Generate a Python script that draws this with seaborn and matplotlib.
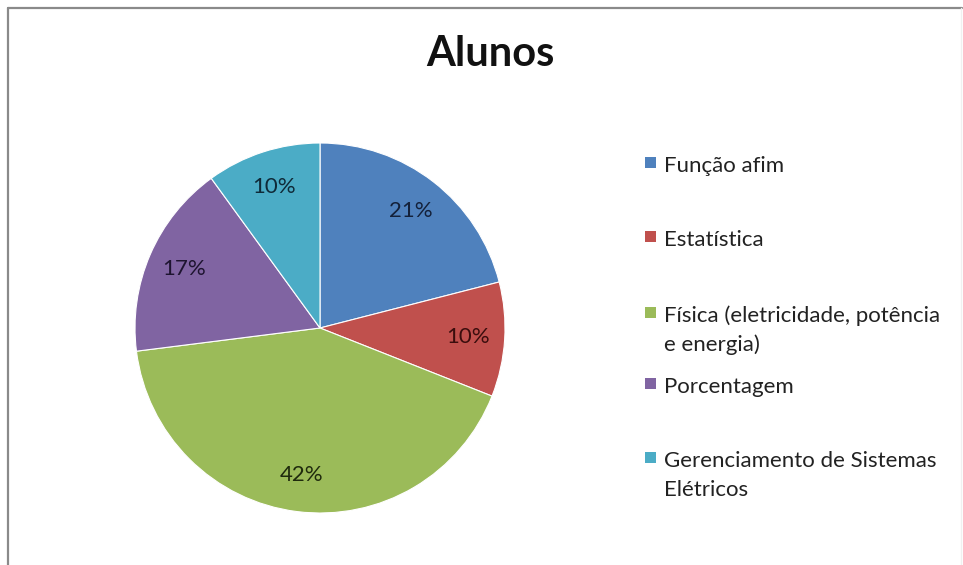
import matplotlib
matplotlib.use("Agg")
import matplotlib.pyplot as plt
from matplotlib.lines import Line2D
from matplotlib.patches import Rectangle
import seaborn as sns

# Data
categories = [
    "Função afim",
    "Estatística",
    "Física (eletricidade, potência\ne energia)",
    "Porcentagem",
    "Gerenciamento de Sistemas\nElétricos",
]
shares = [21, 10, 42, 17, 10]
slice_colors = ["#4F81BD", "#C0504D", "#9BBB59", "#8064A2", "#4BACC6"]
label_colors = ["#14213a", "#3a0d0d", "#1f2a0d", "#1e1430", "#0f2a38"]
title = "Alunos"

sns.set_theme(style="white")
plt.rcParams["font.family"] = ["Lato", "DejaVu Sans"]

W, H, DPI = 963, 565, 100
fig = plt.figure(figsize=(W / DPI, H / DPI), dpi=DPI)
fig.patch.set_facecolor("white")

# pie placement (pixels): centre and radius
cx, cy, r = 320, 328, 185
ax = fig.add_axes([(cx - r) / W, (H - cy - r) / H, 2 * r / W, 2 * r / H])
palette = sns.color_palette(slice_colors)

wedges, texts, autotexts = ax.pie(
    shares,
    colors=palette,
    startangle=90,
    counterclock=False,
    autopct=lambda p: f"{p:.0f}%",
    pctdistance=0.8,
    wedgeprops=dict(edgecolor="white", linewidth=0.8),
    textprops=dict(fontsize=16),
)
for t, c in zip(autotexts, label_colors):
    t.set_color(c)
ax.set_xlim(-1, 1)
ax.set_ylim(-1, 1)
ax.set_axis_off()

# title
fig.text(490 / W, 1 - 54 / H, title, ha="center", va="center",
         fontsize=30, fontweight="bold", color="#111111")

# legend entries (first-line baselines in pixels)
baselines = [172, 246, 322, 393, 467]
for lab, col, base in zip(categories, palette, baselines):
    fig.patches.append(Rectangle(((645) / W, 1 - (base - 4) / H), 11 / W, 11 / H,
                                 transform=fig.transFigure, facecolor=col,
                                 edgecolor="none"))
    fig.text(664 / W, 1 - base / H, lab.split("\n")[0], ha="left", va="baseline",
             fontsize=16, color="#222222")
    if "\n" in lab:
        fig.text(664 / W, 1 - (base + 29) / H, lab.split("\n")[1], ha="left",
                 va="baseline", fontsize=16, color="#222222")

# chart-area frame
fig.add_artist(Line2D([8 / W, 962 / W], [1 - 8 / H, 1 - 8 / H],
                      transform=fig.transFigure, color="#8a8a8a", linewidth=1.6))
fig.add_artist(Line2D([8 / W, 8 / W], [1 - 8 / H, 0],
                      transform=fig.transFigure, color="#8a8a8a", linewidth=1.6))
fig.add_artist(Line2D([961 / W, 961 / W], [1 - 8 / H, 0],
                      transform=fig.transFigure, color="#f0f0f0", linewidth=1.0))

fig.savefig("out.png", dpi=DPI, facecolor="white")
